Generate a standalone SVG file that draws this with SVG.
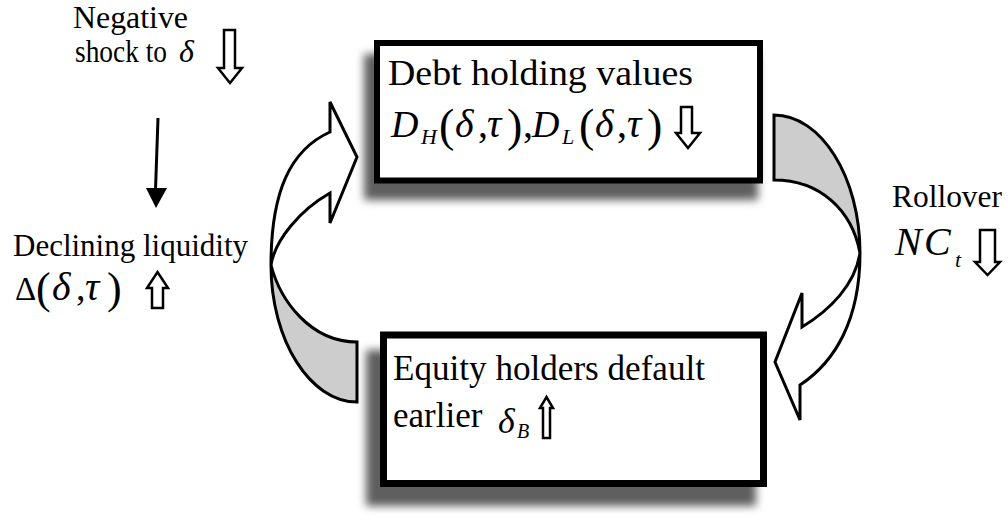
<svg xmlns="http://www.w3.org/2000/svg" width="1008" height="520" viewBox="0 0 1008 520" font-family="'Liberation Serif', 'Times New Roman', serif">
  <defs>
    <filter id="shadow" x="-10%" y="-20%" width="120%" height="140%">
      <feGaussianBlur stdDeviation="4.5"/>
    </filter>
    <style>
      .lbl { font-family: "Liberation Serif", "Times New Roman", serif; fill: #000; }
      .it { font-family: "Liberation Serif", "Times New Roman", serif; font-style: italic; fill: #000; }
      .box { fill: #ffffff; stroke: #000; }
      .shd { fill: #5e5e5e; filter: url(#shadow); }
      .ua { fill: #ffffff; stroke: #000; stroke-width: 2.5; stroke-linejoin: miter; }
      .band { stroke: #000; stroke-width: 3; stroke-linejoin: miter; }
      .gray { fill: #cdcdcd; }
      .white { fill: #ffffff; }
    </style>
  </defs>
  <rect width="1008" height="520" fill="#ffffff"/>

  <g id="connectors">
    <!-- right curved arrow: top box to bottom box -->
    <path class="band gray" d="M 774,115 C 821,115 860,177 860,253 C 852,210 820,180 774,180 Z"/>
    <path class="band white" d="M 860,253 C 860,320 835,362 800,385 L 800,420 L 775,362 L 802,293 L 802,327 C 830,310 855,285 860,253 Z"/>
    <!-- left curved arrow: bottom box to top box -->
    <path class="band gray" d="M 357,342 L 357,402 C 310,402 271,340 271,265 C 280,300 310,342 357,342 Z"/>
    <path class="band white" d="M 271,265 C 271,192 290,150 330,132 L 330,102 L 357,157 L 330,223 L 330,193 C 300,210 275,240 271,265 Z"/>
    <!-- thin arrow from shock to declining liquidity -->
    <line x1="158" y1="118" x2="155.5" y2="190" stroke="#000" stroke-width="3"/>
    <polygon points="146,188 167,188 156,208" fill="#000"/>
  </g>

  <g id="shock">
    <text class="lbl" x="73" y="28" font-size="32" textLength="115" lengthAdjust="spacingAndGlyphs">Negative</text>
    <text class="lbl" x="75" y="62" font-size="31" textLength="92" lengthAdjust="spacingAndGlyphs">shock to</text>
    <text class="it" x="179" y="62" font-size="32">δ</text>
    <polygon class="ua" points="224,30 235,30 235,68 242,68 230,83 218,68 224,68"/>
  </g>

  <g id="liquidity">
    <text class="lbl" x="13" y="256" font-size="31" textLength="235" lengthAdjust="spacingAndGlyphs">Declining liquidity</text>
    <text class="lbl" x="15" y="300" font-size="33">Δ</text>
    <text class="lbl" x="36" y="303" font-size="44">(</text>
    <text class="it" x="52" y="300" font-size="40">δ</text>
    <text class="lbl" x="76" y="300" font-size="38">,</text>
    <text class="it" x="85" y="300" font-size="40">τ</text>
    <text class="lbl" x="107" y="303" font-size="44">)</text>
    <polygon class="ua" points="152,308 163,308 163,288 168,288 157.5,272 147,288 152,288"/>
  </g>

  <g id="rollover">
    <text class="lbl" x="892" y="207" font-size="31" textLength="110" lengthAdjust="spacingAndGlyphs">Rollover</text>
    <text class="it" x="895" y="255" font-size="40">N</text>
    <text class="it" x="924" y="255" font-size="40">C</text>
    <text class="it" x="955" y="267" font-size="22">t</text>
    <polygon class="ua" points="980,230 995,230 995,262 1000,262 987.5,275 975,262 980,262"/>
  </g>

  <g id="debt-box">
    <rect class="shd" x="364" y="54" width="394" height="146"/>
    <rect class="box" x="377" y="43" width="383" height="137.5" stroke-width="6"/>
    <text class="lbl" x="388" y="85" font-size="36" textLength="305" lengthAdjust="spacingAndGlyphs">Debt holding values</text>
    <text class="it" x="391" y="137" font-size="38">D</text>
    <text class="it" x="421" y="144" font-size="22">H</text>
    <text class="lbl" x="439" y="141" font-size="46">(</text>
    <text class="it" x="455" y="137" font-size="40">δ</text>
    <text class="lbl" x="478" y="137" font-size="40">,</text>
    <text class="it" x="487" y="137" font-size="40">τ</text>
    <text class="lbl" x="507" y="141" font-size="46">)</text>
    <text class="lbl" x="523" y="137" font-size="40">,</text>
    <text class="it" x="532" y="137" font-size="38">D</text>
    <text class="it" x="562" y="144" font-size="22">L</text>
    <text class="lbl" x="579" y="141" font-size="46">(</text>
    <text class="it" x="595" y="137" font-size="40">δ</text>
    <text class="lbl" x="617" y="137" font-size="40">,</text>
    <text class="it" x="627" y="137" font-size="40">τ</text>
    <text class="lbl" x="647" y="141" font-size="46">)</text>
    <polygon class="ua" points="681,107 692,107 692,133 700,133 688,148 676,133 681,133"/>
  </g>

  <g id="equity-box">
    <rect class="shd" x="366" y="350" width="390" height="156"/>
    <rect class="box" x="383.5" y="335" width="380" height="148.5" stroke-width="7"/>
    <text class="lbl" x="393" y="380" font-size="35" textLength="312" lengthAdjust="spacingAndGlyphs">Equity holders default</text>
    <text class="lbl" x="393" y="427" font-size="35">earlier</text>
    <text class="it" x="498" y="433" font-size="36">δ</text>
    <text class="it" x="517" y="438" font-size="20">B</text>
    <polygon class="ua" points="543,438 550,438 550,408 553,408 546.5,397 540,408 543,408"/>
  </g>
</svg>
